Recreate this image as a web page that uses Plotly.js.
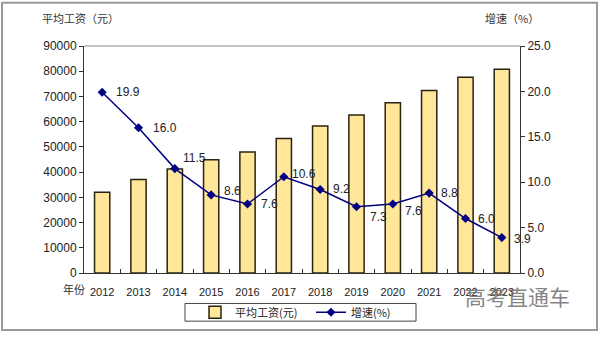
<!DOCTYPE html>
<html><head><meta charset="utf-8">
<script src="https://cdn.plot.ly/plotly-3.0.1.min.js"></script>
<style>html,body{margin:0;padding:0;background:#fff}#c{width:600px;height:339px}</style>
</head><body><div id="c"></div>
<script>
const years = ['2012','2013','2014','2015','2016','2017','2018','2019','2020','2021','2022','2023'];
const avgWage = [32000, 37100, 41200, 44900, 48000, 53300, 58300, 62600, 67500, 72400, 77600, 80800];
const growth = [19.9, 16.0, 11.5, 8.6, 7.6, 10.6, 9.2, 7.3, 7.6, 8.8, 6.0, 3.9];
const leftTicks = [0,10000,20000,30000,40000,50000,60000,70000,80000,90000];
const rightTicks = [0,5,10,15,20,25];

const L=84,R=520,T=46,B=277, W=R-L, H=B-T;
const px = x => (x-L)/W, py = y => (B-y)/H;
const fnum = 'Liberation Sans, Arial, sans-serif';
const fcjk = 'Noto Sans CJK SC, sans-serif';

// label offsets (pixels) relative to each point: [dx, dy]
const labelOffsets = [[12,0],[12,0],[6,11],[11,4],[11,0],[6,3],[11,0],[11,-10],[10,-7],[10,0],[10,0],[10,-1]];

const traces = [
  {type:'bar', x:years, y:avgWage, name:'平均工资(元)', width:0.42,
   marker:{color:'#FFE699', line:{color:'#2b2312', width:1.5}}, yaxis:'y', hoverinfo:'skip'},
  {type:'scatter', mode:'lines+markers', x:years, y:growth, name:'增速(%)', yaxis:'y2',
   line:{color:'#000080', width:1.5}, marker:{symbol:'diamond', size:7, color:'#000080'}, cliponaxis:false}
];

const valueLabels = years.map((yr,i)=>({
  text: growth[i].toFixed(1), x: i, y: growth[i], xref:'x', yref:'y2',
  xanchor:'left', yanchor:'middle', showarrow:false,
  xshift: labelOffsets[i][0], yshift: labelOffsets[i][1],
  font:{family:fnum, size:12, color:'#222'}
}));

const layout = {
  width:600, height:339, margin:{l:L, r:600-R, t:T, b:339-B},
  paper_bgcolor:'#fff', plot_bgcolor:'#fff', showlegend:true,
  font:{family:fnum, size:12, color:'#222'},
  xaxis:{type:'category', categoryarray:years, range:[-0.5, years.length-0.5], showline:true, linecolor:'#333', linewidth:1, mirror:false,
    ticks:'inside', tickson:'boundaries', ticklen:4, tickcolor:'#333', ticklabelstandoff:9,
    tickfont:{family:fnum, size:11, color:'#222'}, showgrid:false, fixedrange:true},
  yaxis:{range:[0,90000], tickvals:leftTicks, ticktext:leftTicks.map(String), showline:true, linecolor:'#333',
    ticks:'outside', ticklen:4, tickcolor:'#333', showgrid:false, zeroline:false,
    tickfont:{family:fnum, size:12, color:'#222'}},
  yaxis2:{range:[0,25], overlaying:'y', side:'right', tickvals:rightTicks, ticktext:rightTicks.map(v=>v.toFixed(1)),
    showline:true, linecolor:'#333', ticks:'outside', ticklen:4, tickcolor:'#333', showgrid:false, zeroline:false,
    tickfont:{family:fnum, size:12, color:'#222'}},
  legend:{orientation:'h', x:px(195), y:py(317), xanchor:'left', yanchor:'middle',
    borderwidth:0, bgcolor:'rgba(0,0,0,0)', font:{family:fcjk, size:11, color:'#222'},
    entrywidth:71, itemwidth:30, tracegroupgap:0},
  shapes:[
    {type:'line', xref:'paper', yref:'paper', x0:0, x1:1, y0:1, y1:1, line:{color:'#888', width:1}},
    {type:'rect', xref:'paper', yref:'paper', x0:px(185), x1:px(416), y0:py(308), y1:py(326), line:{color:'#444', width:1}, fillcolor:'#fff', layer:'below'},
    {type:'rect', xref:'paper', yref:'paper', x0:px(2), x1:px(597), y0:py(2), y1:py(335), line:{color:'#999', width:2}, fillcolor:'rgba(0,0,0,0)', layer:'below'}
  ],
  annotations: valueLabels.concat([
    {text:'平均工资（元）', xref:'paper', yref:'paper', x:px(40), y:py(17), xanchor:'left', yanchor:'middle', showarrow:false, font:{family:fcjk, size:11, color:'#333'}},
    {text:'增速（%）', xref:'paper', yref:'paper', x:px(483), y:py(17), xanchor:'left', yanchor:'middle', showarrow:false, font:{family:fcjk, size:11, color:'#333'}},
    {text:'年份', xref:'paper', yref:'paper', x:px(61), y:py(293), xanchor:'left', yanchor:'middle', showarrow:false, font:{family:fcjk, size:11, color:'#333'}},
    {text:'高考直通车', xref:'paper', yref:'paper', x:px(463), y:py(300), xanchor:'left', yanchor:'middle', showarrow:false, font:{family:fcjk, size:21, color:'rgba(110,110,110,0.85)'}}
  ])
};
Plotly.newPlot('c', traces, layout, {displayModeBar:false, staticPlot:true});
</script></body></html>
